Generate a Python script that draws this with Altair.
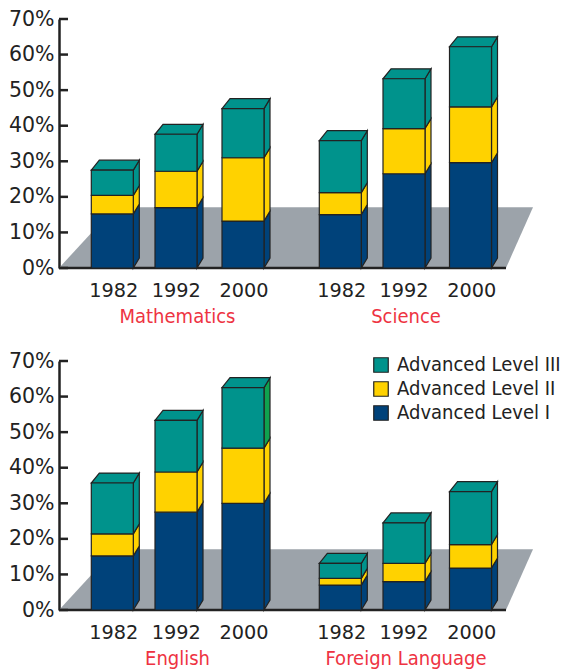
import altair as alt
import pandas as pd

YEARS = ["1982", "1992", "2000"]
LEVELS = ["Advanced Level III", "Advanced Level II", "Advanced Level I"]
COLORS = ["#00938c", "#ffd200", "#00427a"]
SUBJECTS_TOP = ["Mathematics", "Science"]
SUBJECTS_BOTTOM = ["English", "Foreign Language"]
TICKS = [0, 10, 20, 30, 40, 50, 60, 70]

# percent per year: level I, level II, level III
MATH_I = [15.2, 17.0, 13.2]
MATH_II = [5.2, 10.2, 17.8]
MATH_III = [7.1, 10.4, 13.8]
SCI_I = [15.0, 26.5, 29.6]
SCI_II = [6.2, 12.7, 15.7]
SCI_III = [14.6, 14.0, 16.9]
ENG_I = [15.2, 27.5, 30.0]
ENG_II = [6.2, 11.3, 15.5]
ENG_III = [14.3, 14.5, 17.0]
FOR_I = [7.0, 8.0, 11.8]
FOR_II = [1.9, 5.1, 6.6]
FOR_III = [4.2, 11.4, 14.9]

W, H = 481, 249
BAR_LEFT = [32.3, 96, 163, 260.3, 324, 390.5]
BAR_W = 42
LABEL_X = [54.7, 117.3, 185, 282.7, 345, 412.7]
TITLE_X = [118.5, 347]
DX_L, DX_R, DY = 8, 6, 2.8
STROKE = "#222222"
FONT = "DejaVu Sans"
TITLE_FONT = "DejaVu Sans Condensed"

xs = alt.Scale(domain=[0, W], range=[0, W], nice=False, zero=False)
ys = alt.Scale(domain=[0, 70], nice=False, zero=True)
AXIS = alt.Axis(
    values=TICKS, labelExpr="datum.value + '%'", ticks=False, grid=False,
    title=None, domainColor=STROKE, domainWidth=2.5, labelFont=FONT,
    labelFontSize=20.5, labelColor=STROKE, labelPadding=5, zindex=0,
)
X = lambda f: alt.X(f, type="quantitative", scale=xs, axis=None)
Y = lambda f: alt.Y(f, type="quantitative", scale=ys, axis=AXIS)


def panel(groups, subjects, legend, odd=None):
    front, side, top = [], [], []
    for g, group in enumerate(groups):
        for y, name in enumerate(YEARS):
            i = g * 3 + y
            left = BAR_LEFT[i]
            right = left + BAR_W
            base = 0.0
            for k, series in enumerate(group):
                t = base + series[y]
                level = LEVELS[2 - k]
                front.append(dict(x=left, x2=right, y=base, y2=t, level=level))
                key = f"{i}-{k}"
                fill = COLORS[2 - k]
                if odd == (i, k):
                    fill = "#0fa24f"
                side += [
                    dict(key=key, x=right, y=base, y2=t, fill=fill),
                    dict(key=key, x=right + DX_R, y=base + DY, y2=t + DY, fill=fill),
                ]
                base = t
            top += [
                dict(key=str(i), y=base, x=left, x2=right),
                dict(key=str(i), y=base + DY, x=left + DX_L, x2=right + DX_R),
            ]

    floor = alt.Chart(pd.DataFrame([
        dict(y=0, x=0, x2=447), dict(y=17.1, x=56, x2=474),
    ])).mark_area(orient="horizontal", color="#9ca3aa").encode(
        x=X("x"), x2="x2", y=Y("y"),
    )
    base_line = alt.Chart(pd.DataFrame([dict(x=0, x2=447, y=0)])).mark_rule(
        color=STROKE, strokeWidth=2.5
    ).encode(x=X("x"), x2="x2", y=Y("y"))
    tick_marks = alt.Chart(pd.DataFrame({"y": TICKS, "x": 0, "x2": 9})).mark_rule(
        color=STROKE, strokeWidth=2.5
    ).encode(x=X("x"), x2="x2", y=Y("y"))
    sides = alt.Chart(pd.DataFrame(side)).mark_area(
        stroke=STROKE, strokeWidth=1.2
    ).encode(
        x=X("x"), y=Y("y"), y2="y2", detail="key:N",
        fill=alt.Fill("fill:N", scale=None),
    )
    tops = alt.Chart(pd.DataFrame(top)).mark_area(
        orient="horizontal", fill=COLORS[0], stroke=STROKE, strokeWidth=1.2
    ).encode(x=X("x"), x2="x2", y=Y("y"), detail="key:N")
    lg = alt.Legend(
        title=None, orient="none", legendX=312, legendY=-6, symbolType="square",
        symbolSize=210, symbolStrokeColor="#333333", symbolStrokeWidth=1.2,
        symbolOpacity=1, labelFont=TITLE_FONT, labelFontSize=20, labelLimit=400,
        labelColor=STROKE, rowPadding=4, labelOffset=6, padding=0,
    ) if legend else None
    fronts = alt.Chart(pd.DataFrame(front)).mark_rect(
        stroke=STROKE, strokeWidth=1.2
    ).encode(
        x=X("x"), x2="x2", y=Y("y"), y2="y2",
        fill=alt.Fill("level:N", scale=alt.Scale(domain=LEVELS, range=COLORS), legend=lg),
    )
    years = alt.Chart(pd.DataFrame({
        "x": LABEL_X, "t": YEARS * 2,
    })).mark_text(font=FONT, fontSize=19.3, color=STROKE, baseline="middle").encode(
        x=X("x"), y=alt.value(H + 23), text="t:N",
    )
    titles = alt.Chart(pd.DataFrame({
        "x": TITLE_X, "t": subjects,
    })).mark_text(font=TITLE_FONT, fontSize=20, fontWeight=500, color="#ee3342",
                  baseline="middle").encode(
        x=X("x"), y=alt.value(H + 49), text="t:N",
    )
    return alt.layer(floor, base_line, tick_marks, sides, tops, fronts, years, titles).properties(
        width=W, height=H
    )


chart = alt.vconcat(
    panel([(MATH_I, MATH_II, MATH_III), (SCI_I, SCI_II, SCI_III)], SUBJECTS_TOP, False),
    panel([(ENG_I, ENG_II, ENG_III), (FOR_I, FOR_II, FOR_III)], SUBJECTS_BOTTOM, True, odd=(2, 2)),
    spacing=24,
).resolve_scale(fill="independent").configure_view(stroke=None).properties(
    padding={"left": 0, "top": 1, "right": 0, "bottom": 0}
)

chart.save("out.html", embed_options={"renderer": "svg", "actions": False})
